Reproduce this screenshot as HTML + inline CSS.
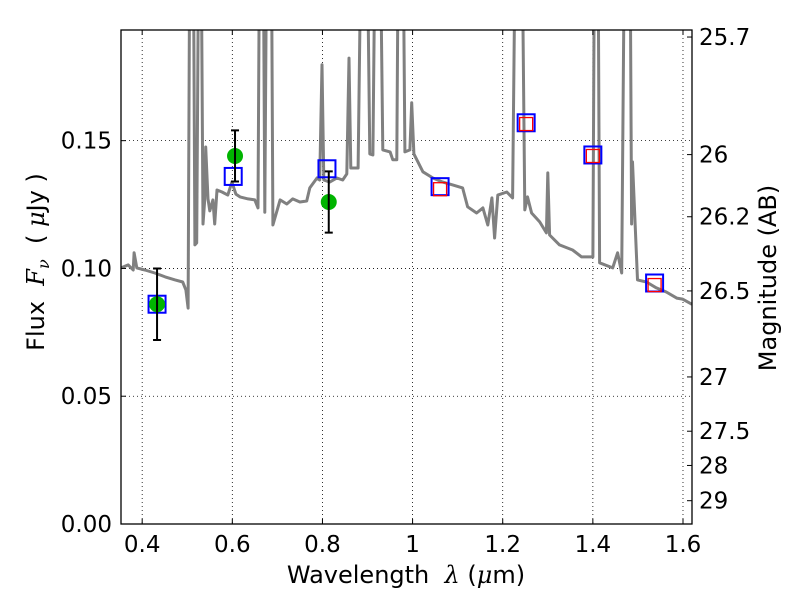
<!DOCTYPE html>
<html><head><meta charset="utf-8"><style>
body{margin:0;background:#fff}
svg{display:block;font-family:"DejaVu Sans","Liberation Sans",sans-serif}
</style></head><body>
<svg id="chart" width="800" height="600" viewBox="0 0 800 600">
<defs><clipPath id="clip"><rect x="121" y="30" width="571" height="494"/></clipPath></defs>
<rect x="0" y="0" width="800" height="600" fill="#fff"/>
<g id="grid"></g>
<g id="spec" clip-path="url(#clip)"></g>
<g id="marks"></g>
<rect x="121" y="30" width="571" height="494" fill="none" stroke="#000" stroke-width="1.3"/>
<g id="axes"></g>
<text x="406" y="583" font-size="24" text-anchor="middle" xml:space="preserve">Wavelength  <tspan font-family="DejaVu Serif, serif" font-style="italic">λ</tspan> (<tspan font-family="DejaVu Serif, serif" font-style="italic">μ</tspan>m)</text>
<text transform="translate(44,262) rotate(-90)" font-size="24" text-anchor="middle" xml:space="preserve">Flux  <tspan font-family="DejaVu Serif, serif" font-style="italic">F<tspan font-size="16" dy="5">ν</tspan></tspan><tspan dy="-5">  ( </tspan><tspan font-family="DejaVu Serif, serif" font-style="italic">μ</tspan>Jy )</text>
<text transform="translate(776,278) rotate(-90)" font-size="24" text-anchor="middle">Magnitude (AB)</text>
</svg>
<script>
const specWave=[0.353,0.369,0.380,0.382,0.388,0.406,0.428,0.451,0.473,0.490,0.497,0.502,0.506,0.513,0.517,0.521,0.526,0.530,0.535,0.539,0.541,0.546,0.550,0.557,0.561,0.566,0.577,0.590,0.599,0.608,0.617,0.635,0.650,0.657,0.661,0.668,0.672,0.677,0.686,0.690,0.706,0.721,0.734,0.750,0.765,0.772,0.788,0.794,0.799,0.803,0.816,0.832,0.845,0.854,0.859,0.863,0.879,0.887,0.898,0.905,0.912,0.918,0.927,0.934,0.950,0.956,0.965,0.969,0.978,0.983,0.994,0.998,1.003,1.023,1.045,1.067,1.089,1.111,1.122,1.142,1.156,1.167,1.176,1.182,1.189,1.209,1.222,1.229,1.242,1.249,1.255,1.264,1.282,1.297,1.300,1.304,1.326,1.355,1.375,1.400,1.404,1.411,1.415,1.444,1.455,1.464,1.471,1.482,1.486,1.488,1.499,1.519,1.541,1.563,1.586,1.599,1.619,1.63];
const specFlux=[0.1002,0.1014,0.0994,0.1061,0.1002,0.0994,0.0982,0.0967,0.0955,0.0947,0.0916,0.0845,0.25,0.25,0.1092,0.1100,0.25,0.25,0.1174,0.1272,0.1475,0.1272,0.1225,0.1268,0.1174,0.1307,0.1299,0.1287,0.1338,0.1291,0.1280,0.1272,0.1268,0.1237,0.25,0.25,0.1220,0.25,0.25,0.1170,0.1268,0.1252,0.1272,0.1260,0.1264,0.1315,0.1354,0.1346,0.1797,0.1346,0.1338,0.1354,0.1346,0.1370,0.1823,0.1393,0.1393,0.25,0.25,0.1448,0.1444,0.25,0.25,0.1464,0.1456,0.1425,0.1425,0.25,0.25,0.1456,0.1464,0.1648,0.1448,0.1378,0.1354,0.1338,0.1327,0.1315,0.1241,0.1217,0.1237,0.1170,0.1276,0.1119,0.1287,0.1299,0.1276,0.25,0.25,0.1229,0.1280,0.1217,0.1182,0.1139,0.1374,0.1131,0.1092,0.1072,0.1045,0.1045,0.25,0.25,0.1022,0.1002,0.1061,0.0982,0.25,0.25,0.1174,0.1417,0.0955,0.0947,0.0924,0.0908,0.0884,0.0880,0.0861,0.0855];
const obsWave=[0.433,0.606,0.814];
const obsFlux=[0.086,0.144,0.126];
const obsErr=[0.014,0.010,0.012];
const modelWave=[0.433,0.602,0.810,1.061,1.252,1.400,1.537];
const modelFlux=[0.086,0.136,0.139,0.132,0.157,0.1444,0.0943];
const redWave=[1.061,1.252,1.400,1.537];
const redFlux=[0.131,0.1565,0.144,0.0935];
const xTicks=[0.4,0.6,0.8,1.0,1.2,1.4,1.6];
const xTickLabels=["0.4","0.6","0.8","1","1.2","1.4","1.6"];
const yTicks=[0,0.05,0.10,0.15];
const yTickLabels=["0.00","0.05","0.10","0.15"];
const magTicks=[25.7,26,26.2,26.5,27,27.5,28,29];
const magTickLabels=["25.7","26","26.2","26.5","27","27.5","28","29"];

const NS="http://www.w3.org/2000/svg";
const L=121,R=692,T=30,B=524,x0=0.353,x1=1.62,y0=0,y1=0.1933;
const X=v=>L+(v-x0)/(x1-x0)*(R-L);
const Y=v=>B-(v-y0)/(y1-y0)*(B-T);
const magToFlux=m=>Math.pow(10,(23.9-m)/2.5);
function mk(tag,attrs,parent){const e=document.createElementNS(NS,tag);for(const k in attrs)e.setAttribute(k,attrs[k]);parent.appendChild(e);return e;}
const grid=document.getElementById('grid'),axes=document.getElementById('axes'),spec=document.getElementById('spec'),marks=document.getElementById('marks');

xTicks.forEach((t,i)=>{
  const x=X(t);
  let g=mk('line',{x1:x,x2:x,y1:T,y2:B,stroke:'#000','stroke-width':0.8,'stroke-dasharray':'1,3'},grid);
  
  
  let tk=mk('line',{x1:x,x2:x,y1:B,y2:B-5,stroke:'#000','stroke-width':1},axes);
  
  
  let tk2=mk('line',{x1:x,x2:x,y1:T,y2:T+5,stroke:'#000','stroke-width':1},axes);
  
  
  let lb=mk('text',{x:x,y:B+28,'font-size':23,'text-anchor':'middle'},axes);
  lb.textContent=xTickLabels[i];
  
  
});
yTicks.forEach((t,i)=>{
  const y=Y(t);
  let g=mk('line',{x1:L,x2:R,y1:y,y2:y,stroke:'#000','stroke-width':0.8,'stroke-dasharray':'1,3'},grid);
  
  
  let tk=mk('line',{x1:L,x2:L+5,y1:y,y2:y,stroke:'#000','stroke-width':1},axes);
  
  
  let lb=mk('text',{x:L-9,y:y+8,'font-size':23,'text-anchor':'end'},axes);
  lb.textContent=yTickLabels[i];
  
  
});
magTicks.forEach((m,i)=>{
  const y=Y(magToFlux(m));
  let tk=mk('line',{x1:R,x2:R-5,y1:y,y2:y,stroke:'#000','stroke-width':1},axes);
  
  
  let lb=mk('text',{x:R+7,y:y+8,'font-size':23,'text-anchor':'start'},axes);
  lb.textContent=magTickLabels[i];
  
  
});
let d='';
specWave.forEach((w,i)=>{d+=(i?'L':'M')+X(w).toFixed(1)+','+Y(specFlux[i]).toFixed(1);});
let p=mk('path',{d:d,fill:'none',stroke:'#808080','stroke-width':3,'stroke-linejoin':'round'},spec);



modelWave.forEach((w,i)=>{
  let r=mk('rect',{x:X(w)-8.5,y:Y(modelFlux[i])-8.5,width:17,height:17,fill:'none',stroke:'#0000ff','stroke-width':2},marks);
  
  
});
redWave.forEach((w,i)=>{
  let r=mk('rect',{x:X(w)-6.5,y:Y(redFlux[i])-6.5,width:13,height:13,fill:'none',stroke:'#ff0000','stroke-width':1.3},marks);
  
  
});
obsWave.forEach((w,i)=>{
  const x=X(w),yt=Y(obsFlux[i]+obsErr[i]),yb=Y(obsFlux[i]-obsErr[i]);
  let c=mk('circle',{cx:x,cy:Y(obsFlux[i]),r:8,fill:'#00b400'},marks);
  
  
  let e=mk('path',{d:`M${x},${yt}V${yb}M${x-4},${yt}H${x+4}M${x-4},${yb}H${x+4}`,stroke:'#000','stroke-width':2,fill:'none'},marks);
  
  
});
</script>
</body></html>
